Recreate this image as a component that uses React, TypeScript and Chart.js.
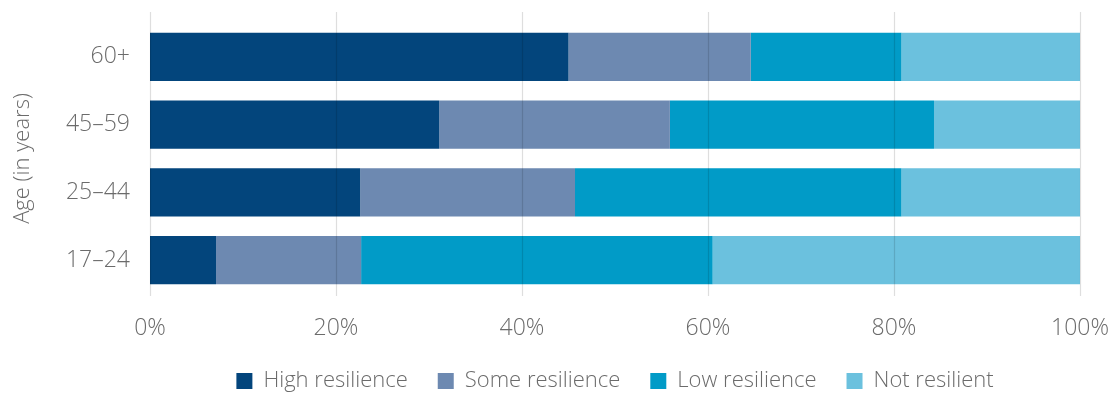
import React, { useEffect, useRef } from "react";
import { Chart, registerables } from "chart.js";

Chart.register(...registerables);

const AGE_GROUPS = ["60+", "45–59", "25–44", "17–24"];
const SERIES_NAMES = ["High resilience", "Some resilience", "Low resilience", "Not resilient"];
const HIGH = [45.0, 31.1, 22.6, 7.1];
const SOME = [19.6, 24.8, 23.1, 15.6];
const LOW = [16.2, 28.4, 35.1, 37.8];
const NOT = [19.2, 15.7, 19.2, 39.5];
const X_TICKS = [0, 20, 40, 60, 80, 100];
const COLORS = ["#03457c", "#6d89b1", "#019bc7", "#6bc1de"];
const AXIS_TITLE = "Age (in years)";

const FONT = "'Open Sans', 'Lato', sans-serif";
const TEXT = "#6b6b6b";

const gridPlugin = {
  id: "topGrid",
  afterDatasetsDraw(chart: any) {
    const { ctx, chartArea, scales } = chart;
    const xs = scales.x;
    ctx.save();
    ctx.strokeStyle = "rgba(0,0,0,0.13)";
    ctx.lineWidth = 1.2;
    X_TICKS.forEach((t) => {
      const px = Math.round(xs.getPixelForValue(t)) + 0.5;
      ctx.beginPath();
      ctx.moveTo(px, chartArea.top - 11);
      ctx.lineTo(px, chartArea.bottom + 2);
      ctx.stroke();
    });
    ctx.restore();
  },
};

export default function App() {
  const ref = useRef<HTMLCanvasElement | null>(null);
  useEffect(() => {
    document.body.style.margin = "0";
    const values = [HIGH, SOME, LOW, NOT];
    const chart = new Chart(ref.current as HTMLCanvasElement, {
      type: "bar",
      data: {
        labels: AGE_GROUPS,
        datasets: SERIES_NAMES.map((name, i) => ({
          label: name,
          data: values[i],
          backgroundColor: COLORS[i],
          borderWidth: 0,
          barPercentage: 1,
          categoryPercentage: 0.71,
        })),
      },
      options: {
        indexAxis: "y",
        animation: false,
        responsive: false,
        maintainAspectRatio: false,
        layout: { padding: { left: 0, right: 31, top: 23, bottom: -8 } },
        scales: {
          x: {
            stacked: true,
            min: 0,
            max: 100,
            afterBuildTicks: (s: any) => {
              s.ticks = X_TICKS.map((v) => ({ value: v }));
            },
            afterFit: (s: any) => {
              s.height = 46;
              s.paddingLeft = 0;
              s.paddingRight = 0;
            },
            ticks: {
              callback: (v: any) => v + "%",
              color: TEXT,
              font: { family: FONT, size: 23, weight: "300" },
              padding: 21,
              maxRotation: 0,
            },
            grid: { display: false, drawTicks: false },
            border: { display: false },
          },
          y: {
            stacked: true,
            afterFit: (s: any) => {
              s.width = 150;
              s.paddingTop = 0;
              s.paddingBottom = 0;
            },
            ticks: {
              color: TEXT,
              font: { family: FONT, size: 23, weight: "300" },
              padding: 20,
            },
            grid: { display: false, drawTicks: false },
            border: { display: false },
            title: {
              display: true,
              text: AXIS_TITLE,
              color: TEXT,
              font: { family: FONT, size: 22, weight: "300" },
              padding: { top: 10, bottom: 0 },
            },
          },
        },
        plugins: {
          legend: {
            position: "bottom",
            fullSize: false,
            labels: {
              color: TEXT,
              font: { family: FONT, size: 22, weight: "300" },
              boxWidth: 16,
              boxHeight: 16,
              padding: 30,
            },
          },
          tooltip: { enabled: false },
        },
      },
      plugins: [gridPlugin],
    } as any);
    return () => chart.destroy();
  }, []);
  return (
    <div style={{ width: 1111, height: 394, overflow: "hidden" }}>
      <canvas ref={ref} width={1111} height={394} style={{ display: "block" }} />
    </div>
  );
}
